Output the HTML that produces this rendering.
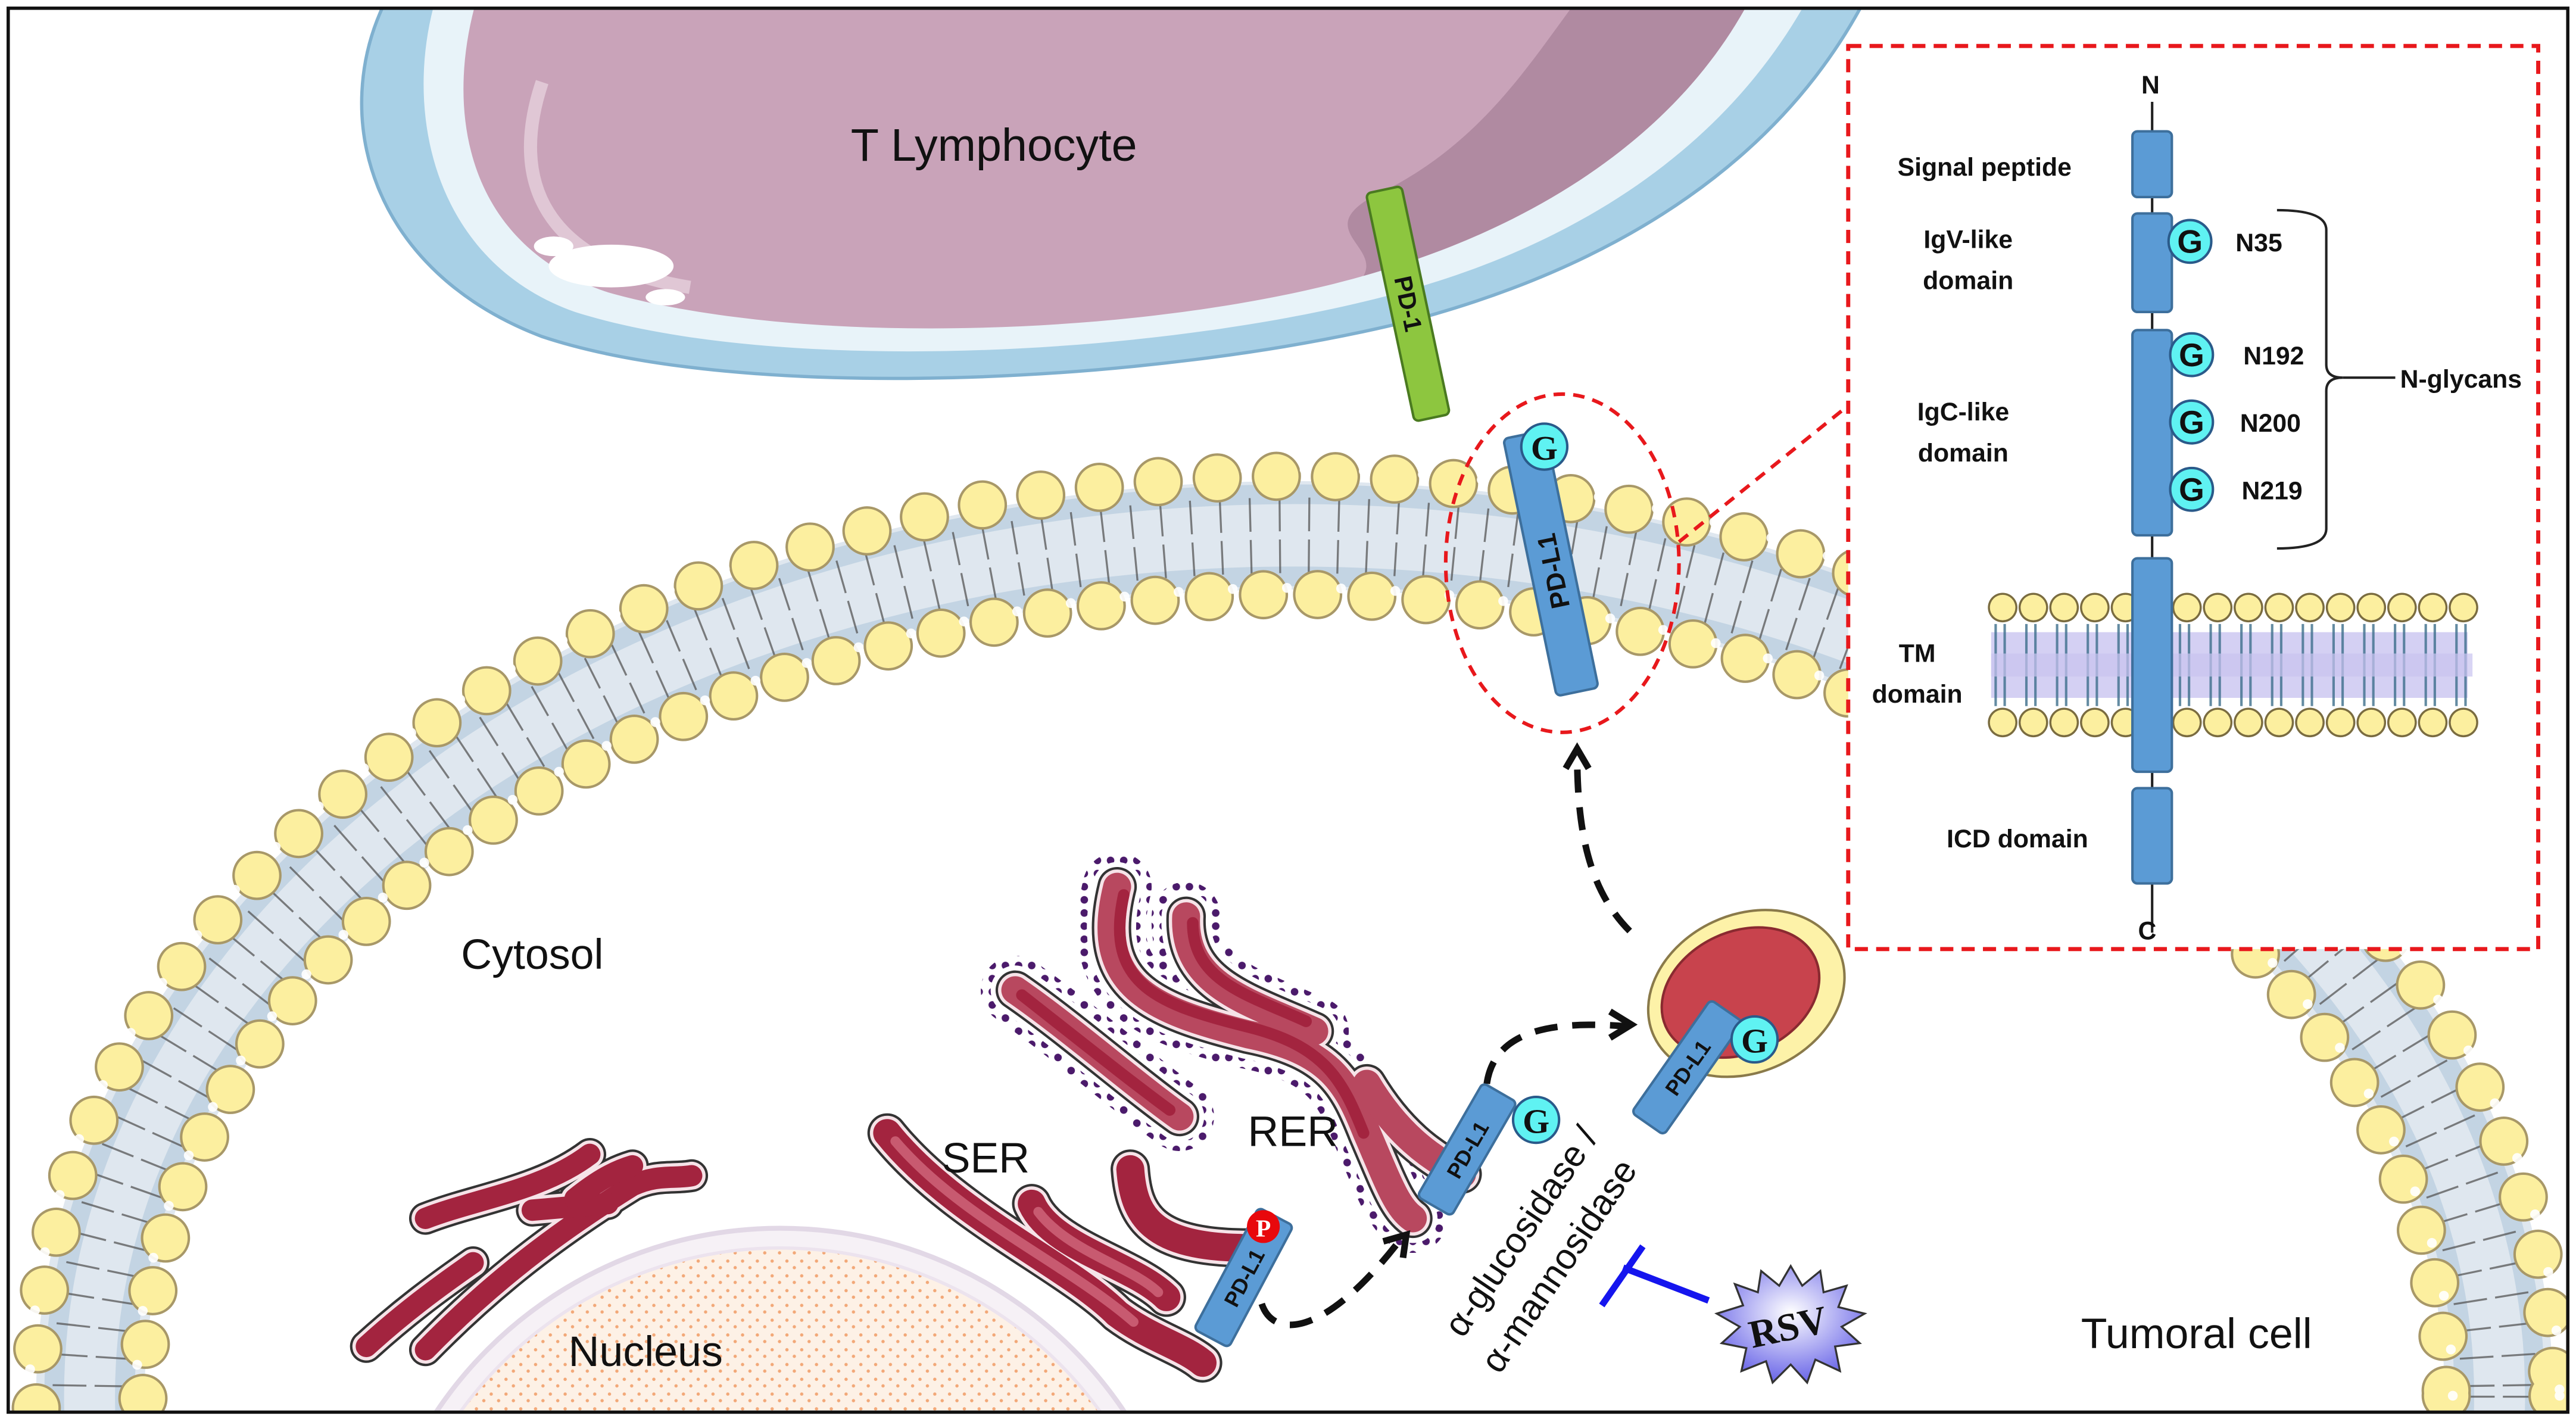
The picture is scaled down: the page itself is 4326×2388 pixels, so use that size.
<!DOCTYPE html>
<html><head><meta charset="utf-8"><style>
html,body{margin:0;padding:0;background:#fff;width:4326px;height:2388px;overflow:hidden}
svg{display:block}
text{font-family:"Liberation Sans Narrow","Liberation Sans",sans-serif}
</style></head><body>
<svg width="4326" height="2388" viewBox="0 0 1568 866" preserveAspectRatio="none" xmlns="http://www.w3.org/2000/svg">
<defs>
<clipPath id="fr"><rect x="5" y="5" width="1558" height="855"/></clipPath>
<radialGradient id="rsv" cx="50%" cy="40%" r="60%"><stop offset="0" stop-color="#ffffff"/><stop offset="1" stop-color="#6a66e8"/></radialGradient>
<pattern id="dots" width="9" height="9" patternUnits="userSpaceOnUse"><rect width="9" height="9" fill="#fdf1e6"/><circle cx="2" cy="3" r="1" fill="#f2a878"/><circle cx="6.5" cy="7" r="1" fill="#f2a878"/></pattern>
<pattern id="pd" width="8" height="8" patternUnits="userSpaceOnUse"><circle cx="4" cy="4" r="2.3" fill="#4b1a6b"/></pattern>
</defs>
<rect width="1568" height="866" fill="#fff"/>
<g clip-path="url(#fr)">
<circle cx="475" cy="1000" r="252" fill="#f6f1f6" stroke="#e2d8e6" stroke-width="3"/>
<circle cx="475" cy="1000" r="240" fill="url(#dots)" stroke="#ece3ee" stroke-width="2"/>
<path d="M235 0 C200 70 225 165 330 205 C450 245 700 235 860 195 C990 160 1085 95 1135 0 Z" fill="#a8d0e6" stroke="#7fb0cf" stroke-width="2"/>
<path d="M265 0 C245 70 265 160 350 190 C470 228 700 218 845 180 C960 150 1050 90 1100 0 Z" fill="#e8f3f9"/>
<path d="M290 0 C270 70 285 150 370 178 C490 212 700 205 830 168 C930 140 1020 85 1065 0 Z" fill="#c9a3b9"/>
<path d="M830 168 C930 140 1020 85 1065 0 L960 0 C930 40 900 90 835 120 C800 140 840 150 830 168Z" fill="#b08aa1"/>
<path d="M330 50 C310 110 330 160 420 175" fill="none" stroke="#e6cfdc" stroke-width="8" opacity=".8"/>
<ellipse cx="372" cy="162" rx="38" ry="13" fill="#fff"/><ellipse cx="337" cy="150" rx="12" ry="6" fill="#fff"/><ellipse cx="405" cy="181" rx="12" ry="5" fill="#fff"/>
<text x="605" y="98" font-size="28" text-anchor="middle" fill="#111">T Lymphocyte</text>
<ellipse cx="788" cy="850" rx="733" ry="524" fill="none" stroke="#dfe7ef" stroke-width="66"/>
<ellipse cx="788" cy="850" rx="755" ry="549" fill="none" stroke="#bcd0e0" stroke-width="12" opacity=".8"/>
<ellipse cx="788" cy="850" rx="712" ry="499" fill="none" stroke="#bcd0e0" stroke-width="12" opacity=".8"/>
<ellipse cx="788" cy="850" rx="733" ry="524" fill="none" stroke="#555" stroke-width="46" stroke-dasharray="1.2 16.6" opacity=".75"/>
<ellipse cx="788" cy="850" rx="733" ry="524" fill="none" stroke="#dfe7ef" stroke-width="5"/>
<ellipse cx="788" cy="850" rx="766" ry="560" fill="none" stroke="#a89868" stroke-width="30" stroke-linecap="round" stroke-dasharray="0 36"/>
<ellipse cx="788" cy="850" rx="766" ry="560" fill="none" stroke="#fcef9f" stroke-width="27" stroke-linecap="round" stroke-dasharray="0 36"/>
<ellipse cx="788" cy="850" rx="701" ry="488" fill="none" stroke="#a89868" stroke-width="30" stroke-linecap="round" stroke-dasharray="0 33"/>
<ellipse cx="788" cy="850" rx="701" ry="488" fill="none" stroke="#fcef9f" stroke-width="27" stroke-linecap="round" stroke-dasharray="0 33"/>
<ellipse cx="788" cy="850" rx="770" ry="564" fill="none" stroke="#fff" stroke-width="6" stroke-linecap="round" stroke-dasharray="0 36" opacity=".9"/>
<ellipse cx="788" cy="850" rx="705" ry="492" fill="none" stroke="#fff" stroke-width="6" stroke-linecap="round" stroke-dasharray="0 33" opacity=".9"/>
</g>
<g transform="translate(857,185) rotate(-12)">
<rect x="-11" y="-71" width="22" height="142" rx="3" fill="#8dc63f" stroke="#4a7a20" stroke-width="1.5"/>
<text transform="rotate(90)" x="0" y="5" font-size="15" font-weight="bold" text-anchor="middle" fill="#111">PD-1</text></g>
<g transform="translate(944,343) rotate(-11.7)">
<rect x="-13" y="-80" width="26" height="160" rx="3" fill="#5b9bd5" stroke="#3d6f9c" stroke-width="1.5"/>
<text transform="rotate(-90)" x="-5" y="6" font-size="16" font-weight="bold" text-anchor="middle" fill="#111">PD-L1</text></g>
<circle cx="940" cy="272" r="14" fill="#5ff2f2" stroke="#2a5a8a" stroke-width="1.5"/><text x="940" y="280" font-weight="bold" font-size="21" text-anchor="middle" fill="#111" style="font-family:'Liberation Serif',serif">G</text>
<ellipse cx="951" cy="343" rx="71" ry="103" fill="none" stroke="#e8181c" stroke-width="2.2" stroke-dasharray="7 5"/>
<line x1="1022" y1="330" x2="1125" y2="247" stroke="#e8181c" stroke-width="2.2" stroke-dasharray="7 5"/>
<rect x="1125" y="28" width="420" height="550" fill="#fff" stroke="#e8181c" stroke-width="2.5" stroke-dasharray="8 5"/>
<line x1="1310" y1="62" x2="1310" y2="568" stroke="#222" stroke-width="1.5"/>
<rect x="1212" y="385" width="290" height="40" fill="#c9c4f0" opacity=".8"/>
<line x1="1219" y1="370" x2="1500" y2="370" stroke="#7a6c40" stroke-width="18" stroke-linecap="round" stroke-dasharray="0 18.7"/>
<line x1="1219" y1="370" x2="1500" y2="370" stroke="#fcef9f" stroke-width="15.5" stroke-linecap="round" stroke-dasharray="0 18.7"/>
<line x1="1219" y1="440" x2="1500" y2="440" stroke="#7a6c40" stroke-width="18" stroke-linecap="round" stroke-dasharray="0 18.7"/>
<line x1="1219" y1="440" x2="1500" y2="440" stroke="#fcef9f" stroke-width="15.5" stroke-linecap="round" stroke-dasharray="0 18.7"/>
<line x1="1214" y1="405" x2="1505" y2="405" stroke="#3d6f8c" stroke-width="50" stroke-dasharray="1.5 4 1.5 11.7" opacity=".8"/>
<line x1="1212" y1="405" x2="1505" y2="405" stroke="#c9c4f0" stroke-width="14" opacity=".7"/>
<g fill="#5b9bd5" stroke="#3d6f9c" stroke-width="1.5">
<rect x="1298" y="80" width="24" height="40" rx="3"/>
<rect x="1298" y="130" width="24" height="60" rx="3"/>
<rect x="1298" y="201" width="24" height="125" rx="3"/>
<rect x="1298" y="340" width="24" height="130" rx="3"/>
<rect x="1298" y="480" width="24" height="58" rx="3"/>
</g>
<g fill="#5ff2f2" stroke="#2a5a8a" stroke-width="1.5">
<circle cx="1333" cy="147" r="13"/><circle cx="1334" cy="216" r="13"/><circle cx="1334" cy="257" r="13"/><circle cx="1334" cy="298" r="13"/></g>
<g font-size="20" font-weight="bold" text-anchor="middle" fill="#111" style="font-family:'Liberation Serif',serif">
<text x="1333" y="154">G</text><text x="1334" y="223">G</text><text x="1334" y="264">G</text><text x="1334" y="305">G</text></g>
<g font-size="15.5" font-weight="bold" fill="#111" text-anchor="middle">
<text x="1309" y="57">N</text><text x="1307" y="572">C</text>
<text x="1208" y="107">Signal peptide</text>
<text x="1198" y="151">IgV-like</text><text x="1198" y="176">domain</text>
<text x="1195" y="256">IgC-like</text><text x="1195" y="281">domain</text>
<text x="1167" y="403">TM</text><text x="1167" y="428">domain</text>
<text x="1228" y="516">ICD domain</text>
<text x="1375" y="153">N35</text><text x="1384" y="222">N192</text><text x="1382" y="263">N200</text><text x="1383" y="304">N219</text>
<text x="1498" y="236">N-glycans</text></g>
<path d="M1386 128 Q1416 128 1416 140 L1416 222 Q1416 230 1426 230 Q1416 230 1416 238 L1416 322 Q1416 334 1386 334" fill="none" stroke="#222" stroke-width="1.5"/>
<line x1="1426" y1="230" x2="1458" y2="230" stroke="#222" stroke-width="1.5"/>
<g fill="none" stroke-linecap="round" stroke-linejoin="round">
<g stroke="#333" stroke-width="20"><path d="M259 742 C290 730 330 725 359 703"/><path d="M223 820 C245 800 265 785 288 769"/><path d="M259 822 C300 780 340 750 385 722 C400 715 410 718 421 716"/><path d="M324 737 L370 733"/><path d="M350 730 C365 718 375 713 385 710"/></g>
<g stroke="#f6e3e8" stroke-width="17"><path d="M259 742 C290 730 330 725 359 703"/><path d="M223 820 C245 800 265 785 288 769"/><path d="M259 822 C300 780 340 750 385 722 C400 715 410 718 421 716"/><path d="M324 737 L370 733"/><path d="M350 730 C365 718 375 713 385 710"/></g>
<g stroke="#a3243f" stroke-width="13"><path d="M259 742 C290 730 330 725 359 703"/><path d="M223 820 C245 800 265 785 288 769"/><path d="M259 822 C300 780 340 750 385 722 C400 715 410 718 421 716"/><path d="M324 737 L370 733"/><path d="M350 730 C365 718 375 713 385 710"/></g>
<g stroke="#333" stroke-width="24"><path d="M540 690 C580 740 650 770 680 800 C700 815 720 820 732 830"/><path d="M628 733 C640 760 690 770 710 790"/><path d="M688 712 C690 740 700 760 760 760"/></g>
<g stroke="#f6e3e8" stroke-width="21"><path d="M540 690 C580 740 650 770 680 800 C700 815 720 820 732 830"/><path d="M628 733 C640 760 690 770 710 790"/><path d="M688 712 C690 740 700 760 760 760"/></g>
<g stroke="#a3243f" stroke-width="17"><path d="M540 690 C580 740 650 770 680 800 C700 815 720 820 732 830"/><path d="M628 733 C640 760 690 770 710 790"/><path d="M688 712 C690 740 700 760 760 760"/></g>
<g stroke="#c85a70" stroke-width="6"><path d="M545 695 C585 742 650 770 690 805"/><path d="M632 738 C650 762 690 772 705 787"/></g>
<g stroke="url(#pd)" stroke-width="42"><path d="M618 603 C650 625 690 660 718 680"/><path d="M680 540 C665 600 700 615 760 630 C810 640 820 660 832 690 C845 720 850 735 860 742"/><path d="M722 558 C720 600 760 610 800 628"/></g>
<g stroke="#fff" stroke-width="30"><path d="M618 603 C650 625 690 660 718 680"/><path d="M680 540 C665 600 700 615 760 630 C810 640 820 660 832 690 C845 720 850 735 860 742"/><path d="M722 558 C720 600 760 610 800 628"/></g>
<g stroke="#333" stroke-width="24"><path d="M618 603 C650 625 690 660 718 680"/><path d="M680 540 C665 600 700 615 760 630 C810 640 820 660 832 690 C845 720 850 735 860 742"/><path d="M722 558 C720 600 760 610 800 628"/><path d="M832 660 C850 690 870 705 890 715"/></g>
<g stroke="#f6e3e8" stroke-width="21"><path d="M618 603 C650 625 690 660 718 680"/><path d="M680 540 C665 600 700 615 760 630 C810 640 820 660 832 690 C845 720 850 735 860 742"/><path d="M722 558 C720 600 760 610 800 628"/><path d="M832 660 C850 690 870 705 890 715"/></g>
<g stroke="#b8485f" stroke-width="17"><path d="M618 603 C650 625 690 660 718 680"/><path d="M680 540 C665 600 700 615 760 630 C810 640 820 660 832 690 C845 720 850 735 860 742"/><path d="M722 558 C720 600 760 610 800 628"/><path d="M832 660 C850 690 870 705 890 715"/></g>
<g stroke="#a3243f" stroke-width="7"><path d="M684 545 C672 600 705 612 762 626 C808 638 818 660 830 690"/><path d="M726 562 C726 598 760 606 795 622"/><path d="M622 606 C650 628 690 660 712 676"/></g>
</g>
<g transform="translate(893,700) rotate(30)"><rect x="-12" y="-40" width="24" height="80" rx="3" fill="#5b9bd5" stroke="#3d6f9c" stroke-width="1.5"/>
<text transform="rotate(-90)" x="0" y="5" font-size="13" font-weight="bold" text-anchor="middle" fill="#111">PD-L1</text></g>
<circle cx="935" cy="682" r="14" fill="#5ff2f2" stroke="#2a5a8a" stroke-width="1.5"/><text x="935" y="690" font-weight="bold" font-size="21" text-anchor="middle" fill="#111" style="font-family:'Liberation Serif',serif">G</text>
<g transform="translate(757,778) rotate(28)"><rect x="-12" y="-42" width="24" height="84" rx="3" fill="#5b9bd5" stroke="#3d6f9c" stroke-width="1.5"/>
<text transform="rotate(-90)" x="0" y="5" font-size="13" font-weight="bold" text-anchor="middle" fill="#111">PD-L1</text></g>
<circle cx="769" cy="747" r="10" fill="#e8080c"/><text x="769" y="753" font-size="15" font-weight="bold" text-anchor="middle" fill="#fff" style="font-family:'Liberation Serif',serif">P</text>
<g transform="translate(1063,605) rotate(-25)"><ellipse rx="62" ry="48" fill="#fdf2a8" stroke="#8a7a4a" stroke-width="1.5"/><ellipse cx="-3" cy="-2" rx="50" ry="37" fill="#c8434d" stroke="#8a2a30" stroke-width="1.5"/></g>
<g transform="translate(1027,650) rotate(35)"><rect x="-12" y="-42" width="24" height="84" rx="3" fill="#5b9bd5" stroke="#3d6f9c" stroke-width="1.5"/>
<text transform="rotate(-90)" x="0" y="5" font-size="13" font-weight="bold" text-anchor="middle" fill="#111">PD-L1</text></g>
<circle cx="1068" cy="633" r="14" fill="#5ff2f2" stroke="#2a5a8a" stroke-width="1.5"/><text x="1068" y="641" font-weight="bold" font-size="21" text-anchor="middle" fill="#111" style="font-family:'Liberation Serif',serif">G</text>
<g fill="none" stroke="#111" stroke-width="4" stroke-dasharray="14 9">
<path d="M768 794 C775 815 805 815 850 758"/>
<path d="M905 660 C910 625 950 622 990 625"/>
<path d="M992 567 C965 540 960 500 960 458"/></g>
<g fill="none" stroke="#111" stroke-width="4"><path d="M842 756 L856 752 L854 766"/><path d="M980 616 L993 624 L980 632"/><path d="M953 468 L960 456 L967 468"/></g>
<g font-size="22" fill="#111" text-anchor="middle">
<text transform="translate(932,754) rotate(-56)">α-glucosidase /</text>
<text transform="translate(955,775) rotate(-56)">α-mannosidase</text></g>
<line x1="1040" y1="792" x2="988" y2="772" stroke="#1515ee" stroke-width="4"/>
<line x1="975" y1="795" x2="1000" y2="759" stroke="#1515ee" stroke-width="4"/>
<polygon points="1090,771 1097,783 1108,774 1110,787 1124,783 1119,796 1135,800 1121,808 1132,818 1117,820 1120,835 1105,828 1100,842 1090,831 1079,842 1075,829 1060,835 1063,821 1048,818 1059,808 1045,800 1061,795 1056,782 1070,787 1072,774 1083,783" fill="url(#rsv)" stroke="#333" stroke-width="1.2"/>
<text transform="translate(1090,816) rotate(-12)" font-size="24" font-weight="bold" text-anchor="middle" fill="#111" style="font-family:'Liberation Serif',serif">RSV</text>
<g font-size="26" fill="#111" text-anchor="middle">
<text x="324" y="590">Cytosol</text>
<text x="393" y="832">Nucleus</text>
<text x="600" y="714">SER</text>
<text x="787" y="698">RER</text>
<text x="1337" y="821">Tumoral cell</text></g>
<rect x="5" y="5" width="1558" height="855" fill="none" stroke="#111" stroke-width="2"/>
</svg>
</body></html>
